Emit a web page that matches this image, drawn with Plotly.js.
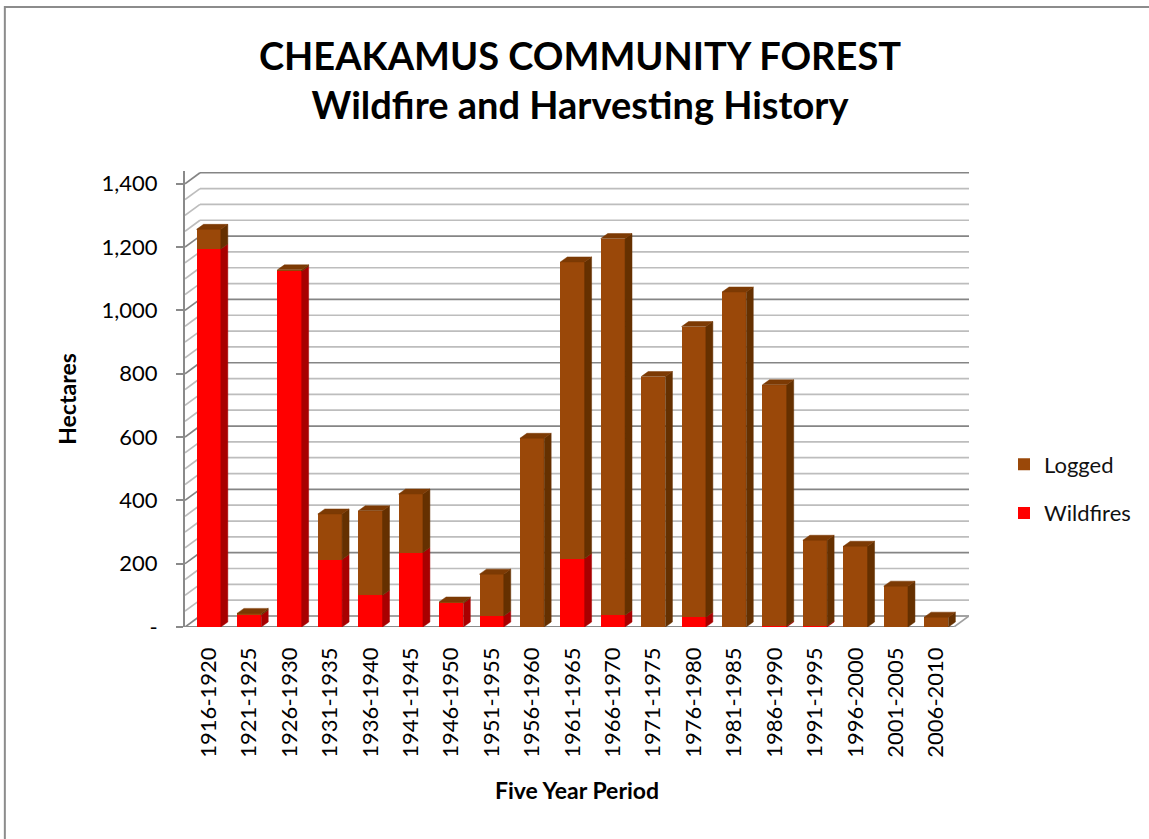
<!DOCTYPE html>
<html>
<head>
<meta charset="utf-8">
<script src="https://cdn.plot.ly/plotly-3.0.1.min.js"></script>
<style>html,body{margin:0;padding:0;background:#fff;}#chart{width:1149px;height:839px;}</style>
</head>
<body>
<div id="chart"></div>
<script>
// ---- data ----
const periods = ["1916-1920","1921-1925","1926-1930","1931-1935","1936-1940","1941-1945","1946-1950","1951-1955","1956-1960","1961-1965","1966-1970","1971-1975","1976-1980","1981-1985","1986-1990","1991-1995","1996-2000","2001-2005","2006-2010"];
const wildfires = [1194, 38, 1124, 213, 100, 235, 75, 35, 0, 216, 37, 0, 31, 0, 3, 3, 0, 0, 0];
const logged    = [62, 5, 4, 144, 267, 185, 4, 132, 596, 937, 1190, 791, 918, 1058, 762, 271, 255, 129, 31];
const yTickVals = [0, 200, 400, 600, 800, 1000, 1200, 1400];
const yTickText = ["-", "200", "400", "600", "800", "1,000", "1,200", "1,400"];

// ---- style / geometry ----
const RED = "#ff0000", RED_SIDE = "#a80000", RED_TOP = "#d00000";
const BROWN = "#9a4809", BROWN_SIDE = "#653000", BROWN_TOP = "#7c3a04";
const X_RANGE = [-0.586, 18.81];
const Y_RANGE = [0, 1440.3];
const BAR_W = 0.6, BDX = 0.173, BDY = 15.8;   // bar depth
const WDX = 0.371, WDY = 34.7;                // wall depth
const FONT = "Lato, 'Open Sans', sans-serif";

const xs = periods.map((_, i) => i);

function poly(arrX, arrY, pts) {
  pts.forEach(p => { arrX.push(p[0]); arrY.push(p[1]); });
  arrX.push(pts[0][0]); arrY.push(pts[0][1]);
  arrX.push(null); arrY.push(null);
}
const rsX = [], rsY = [], bsX = [], bsY = [], rtX = [], rtY = [], btX = [], btY = [];
xs.forEach(i => {
  const w = wildfires[i], l = logged[i], t = w + l;
  const xr = i + BAR_W / 2, xl = i - BAR_W / 2;
  if (w > 0) poly(rsX, rsY, [[xr, 0], [xr + BDX, BDY], [xr + BDX, w + BDY], [xr, w]]);
  if (l > 0) poly(bsX, bsY, [[xr, w], [xr + BDX, w + BDY], [xr + BDX, t + BDY], [xr, t]]);
  const top = [[xl, t], [xl + BDX, t + BDY], [xr + BDX, t + BDY], [xr, t]];
  if (l > 0) poly(btX, btY, top); else if (w > 0) poly(rtX, rtY, top);
});

const faceTrace = (x, y, c) => ({
  type: "scatter", mode: "lines", x: x, y: y, fill: "toself", fillcolor: c,
  line: {width: 0.5, color: c}, hoverinfo: "skip", showlegend: false
});

const traces = [
  {type: "bar", name: "Wildfires", x: xs, y: wildfires, width: BAR_W,
   marker: {color: RED, line: {width: 0}}, legendgroup: "w", legendrank: 2},
  {type: "bar", name: "Logged", x: xs, y: logged, width: BAR_W,
   marker: {color: BROWN, line: {width: 0}}, legendgroup: "l", legendrank: 1},
  faceTrace(rsX, rsY, RED_SIDE),
  faceTrace(bsX, bsY, BROWN_SIDE),
  faceTrace(rtX, rtY, RED_TOP),
  faceTrace(btX, btY, BROWN_TOP)
];

// walls & gridlines
const shapes = [];
const xL = X_RANGE[0], xR = X_RANGE[1];
for (let v = 0; v <= 1400; v += 50) {
  const major = v % 200 === 0;
  const col = major ? "#858585" : "#bdbdbd";
  shapes.push({type: "line", xref: "x", yref: "y", layer: "below", x0: xL, y0: v, x1: xL + WDX, y1: v + WDY, line: {color: col, width: 1.7}});
  shapes.push({type: "line", xref: "x", yref: "y", layer: "below", x0: xL + WDX, y0: v + WDY, x1: xR, y1: v + WDY, line: {color: col, width: 1.7}});
}
// floor front edge and right edge
shapes.push({type: "line", xref: "x", yref: "y", layer: "below", x0: xL, y0: 0, x1: xR - WDX, y1: 0, line: {color: "#8a8a8a", width: 2}});
shapes.push({type: "line", xref: "x", yref: "y", layer: "below", x0: xR - WDX, y0: 0, x1: xR, y1: WDY, line: {color: "#a0a0a0", width: 1.6}});
// outer chart border
shapes.push({type: "rect", xref: "paper", yref: "paper", x0: -185/779 + 6/779, x1: 2, y0: -212/456 - 1, y1: 1 + (171 - 7)/456, line: {color: "#8c8c8c", width: 2}, layer: "below"});

const layout = {
  width: 1149, height: 839,
  paper_bgcolor: "#ffffff", plot_bgcolor: "rgba(0,0,0,0)",
  margin: {l: 185, r: 180, t: 171, b: 212},
  barmode: "stack", bargap: 0.4,
  font: {family: FONT, color: "#000"},
  title: {
    text: "<b>CHEAKAMUS COMMUNITY FOREST<br>Wildfire and Harvesting History</b>",
    font: {family: FONT, size: 38, color: "#000"},
    x: 580/1149, xanchor: "center", xref: "container",
    y: 1 - 70/839, yanchor: "middle", yref: "container"
  },
  xaxis: {
    range: X_RANGE, tickvals: xs, ticktext: periods, tickangle: -90,
    showgrid: false, zeroline: false, showline: false, ticks: "",
    ticklabelstandoff: 15,
    tickfont: {family: FONT, size: 22, color: "#000"},
    title: {text: "<b>Five Year Period</b>", font: {family: FONT, size: 23, color: "#000"}, standoff: 26},
    fixedrange: true
  },
  yaxis: {
    range: Y_RANGE, tickvals: yTickVals, ticktext: yTickText,
    showgrid: false, zeroline: false, showline: true, linecolor: "#8a8a8a", linewidth: 2,
    ticks: "outside", ticklen: 7, tickcolor: "#8a8a8a", tickwidth: 2,
    ticklabelstandoff: 14,
    tickfont: {family: FONT, size: 22, color: "#000"},
    title: {text: "<b>Hectares</b>", font: {family: FONT, size: 23, color: "#000"}, standoff: 19},
    fixedrange: true
  },
  legend: {
    xref: "container", yref: "container",
    x: 1004/1149, xanchor: "left", y: 1 - 489/839, yanchor: "middle",
    traceorder: "grouped", tracegroupgap: 17,
    font: {family: FONT, size: 22, color: "#111"},
    bgcolor: "rgba(0,0,0,0)"
  },
  shapes: shapes,
  showlegend: true
};

Plotly.newPlot("chart", traces, layout, {displayModeBar: false, staticPlot: true});
</script>
</body>
</html>
